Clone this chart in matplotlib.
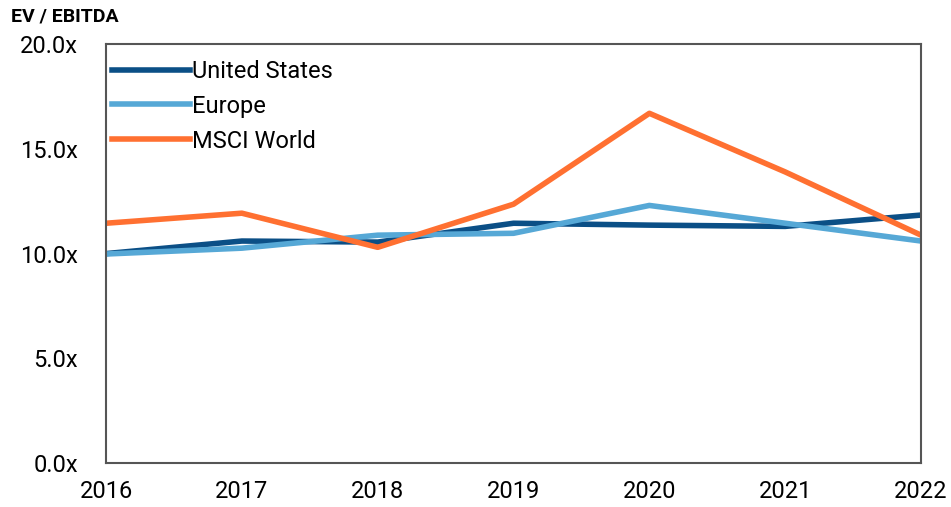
import matplotlib.pyplot as plt

years = [2016, 2017, 2018, 2019, 2020, 2021, 2022]
united_states = [10.0, 10.6, 10.55, 11.45, 11.36, 11.3, 11.84]
europe = [9.98, 10.26, 10.88, 10.97, 12.3, 11.45, 10.6]
msci_world = [11.45, 11.93, 10.3, 12.36, 16.7, 13.9, 10.88]
y_ticks = [0, 5, 10, 15, 20]

plt.rcParams["font.family"] = ["Roboto", "DejaVu Sans"]

fig = plt.figure(figsize=(9.51, 5.07), dpi=100)
ax = fig.add_axes([0.1115, 0.0868, 0.857, 0.826])

ax.plot(years, united_states, color="#0b4f86", lw=4, label="United States")
ax.plot(years, europe, color="#56a8d6", lw=4, label="Europe")
ax.plot(years, msci_world, color="#ff7031", lw=4, label="MSCI World")

ax.set_xlim(2016, 2022)
ax.set_ylim(0, 20)
ax.set_xticks(years)
ax.set_yticks(y_ticks)
ax.set_yticklabels([f"{v:.1f}x" for v in y_ticks])
ax.tick_params(length=0, labelsize=17)
ax.tick_params(axis="x", pad=12)
ax.tick_params(axis="y", pad=20)
for s in ax.spines.values():
    s.set_color("#555555")
    s.set_linewidth(1.5)

ax.legend(loc="upper left", frameon=False, fontsize=17, handlelength=3.3,
          handletextpad=0.1, labelspacing=0.5, borderaxespad=0.0,
          bbox_to_anchor=(-0.004, 0.985))

fig.text(0.012, 0.968, "EV / EBITDA", fontsize=14, fontweight="bold", va="center")

fig.savefig("out.png", dpi=100)
